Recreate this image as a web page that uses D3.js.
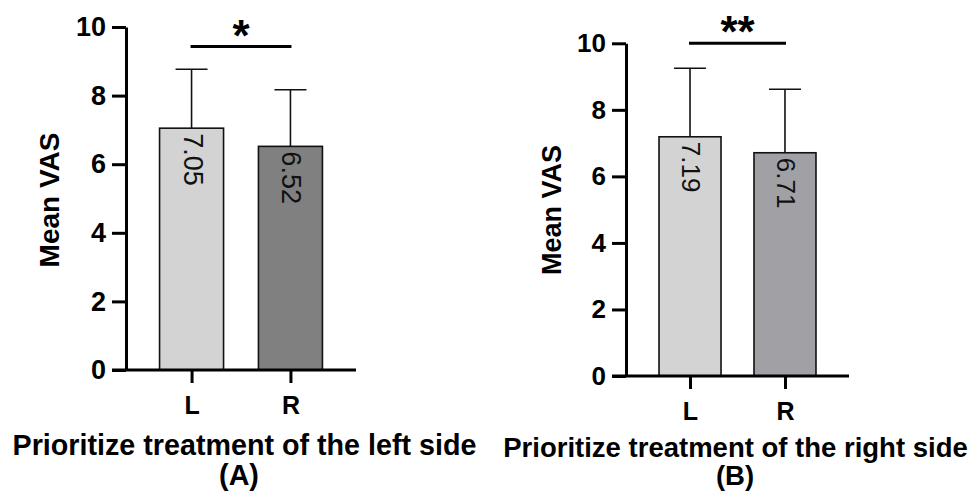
<!DOCTYPE html>
<html>
<head>
<meta charset="utf-8">
<script src="https://cdn.jsdelivr.net/npm/d3@7"></script>
<style>
  body { margin: 0; background: #fff; }
  text { font-family: Arial, "Liberation Sans", sans-serif; }
</style>
</head>
<body>
<div id="chart"></div>
<script>
// data
var groups = ["L", "R"];
var meansA = [7.05, 6.52];
var sdA = [1.72, 1.65];
var meansB = [7.19, 6.71];
var sdB = [2.06, 1.91];
var yTicks = [0, 2, 4, 6, 8, 10];
var titles = ["Prioritize treatment of the left side", "Prioritize treatment of the right side"];
var tags = ["(A)", "(B)"];
var sigMarks = ["*", "**"];
var colorsA = ["#d3d3d3", "#808080"];
var colorsB = ["#d3d3d3", "#a1a1a5"];

var svg = d3.select("#chart")
  .append("svg")
  .attr("width", 973)
  .attr("height", 496);

function drawPanel(p) {
  var g = svg.append("g");

  var y = d3.scaleLinear().domain([0, 10]).range([p.y0, p.y10]);
  var x = d3.scalePoint().domain(groups).range([p.axisX, p.xEnd]).padding(p.pad);

  // bars
  g.selectAll(".bar")
    .data(groups)
    .enter()
    .append("rect")
    .attr("x", function (d) { return x(d) - p.barW / 2; })
    .attr("width", p.barW)
    .attr("y", function (d, i) { return y(p.means[i]); })
    .attr("height", function (d, i) { return p.y0 - y(p.means[i]); })
    .attr("fill", function (d, i) { return p.colors[i]; })
    .attr("stroke", "#111")
    .attr("stroke-width", 1.6);

  // error bars (upper only)
  var err = g.selectAll(".err").data(groups).enter().append("g");
  err.append("line")
    .attr("x1", function (d) { return x(d); })
    .attr("x2", function (d) { return x(d); })
    .attr("y1", function (d, i) { return y(p.means[i]); })
    .attr("y2", function (d, i) { return y(p.means[i] + p.sd[i]); })
    .attr("stroke", "#111").attr("stroke-width", 1.6);
  err.append("line")
    .attr("x1", function (d) { return x(d) - 16; })
    .attr("x2", function (d) { return x(d) + 16; })
    .attr("y1", function (d, i) { return y(p.means[i] + p.sd[i]); })
    .attr("y2", function (d, i) { return y(p.means[i] + p.sd[i]); })
    .attr("stroke", "#111").attr("stroke-width", 1.6);

  // value labels, rotated inside bars
  g.selectAll(".val")
    .data(groups)
    .enter()
    .append("text")
    .attr("transform", function (d, i) {
      return "translate(" + (x(d) + 1) + "," + (y(p.means[i]) + 5) + ") rotate(90)";
    })
    .attr("dominant-baseline", "central")
    .attr("font-size", p.valSize)
    .attr("fill", "#111")
    .text(function (d, i) { return p.means[i].toFixed(2); });

  // y axis
  var yAxis = g.append("g")
    .attr("transform", "translate(" + p.axisX + ",0)")
    .call(d3.axisLeft(y).tickValues(yTicks).tickSize(14).tickPadding(6).tickSizeOuter(0));
  yAxis.select(".domain").attr("stroke", "#000").attr("stroke-width", 3);
  yAxis.selectAll(".tick line").attr("stroke", "#000").attr("stroke-width", 3);
  yAxis.selectAll(".tick text")
    .attr("font-size", p.tickSize)
    .attr("font-weight", "bold")
    .attr("fill", "#000")
    .style("font-family", "Arial, 'Liberation Sans', sans-serif");

  // x axis
  var xAxis = g.append("g")
    .attr("transform", "translate(0," + p.y0 + ")")
    .call(d3.axisBottom(x).tickSize(13).tickPadding(13).tickSizeOuter(0));
  xAxis.select(".domain").remove();
  xAxis.selectAll(".tick line").attr("stroke", "#000").attr("stroke-width", 3);
  xAxis.selectAll(".tick text")
    .attr("font-size", 25)
    .attr("font-weight", "bold")
    .attr("fill", "#000")
    .style("font-family", "Arial, 'Liberation Sans', sans-serif");
  g.append("line")
    .attr("x1", p.axisX - 14)
    .attr("x2", p.xEnd)
    .attr("y1", p.y0)
    .attr("y2", p.y0)
    .attr("stroke", "#000")
    .attr("stroke-width", 3);

  // y label
  g.append("text")
    .attr("transform", "translate(" + p.labelX + "," + p.labelY + ") rotate(-90)")
    .attr("text-anchor", "middle")
    .attr("font-size", p.labelSize)
    .attr("font-weight", "bold")
    .text("Mean VAS");

  // significance bracket
  g.append("line")
    .attr("x1", x(groups[0]) - 1)
    .attr("x2", x(groups[1]) + 1)
    .attr("y1", p.sigY)
    .attr("y2", p.sigY)
    .attr("stroke", "#000")
    .attr("stroke-width", 3);
  g.append("text")
    .attr("x", (x(groups[0]) + x(groups[1])) / 2)
    .attr("y", p.sigY + 4)
    .attr("text-anchor", "middle")
    .attr("font-size", 44)
    .attr("font-weight", "bold")
    .text(p.sig);

  // titles
  g.append("text")
    .attr("x", p.titleX)
    .attr("y", p.titleY)
    .attr("text-anchor", "middle")
    .attr("font-size", p.titleSize)
    .attr("font-weight", "bold")
    .text(p.title);
  g.append("text")
    .attr("x", p.tagX)
    .attr("y", p.titleY + p.tagGap)
    .attr("text-anchor", "middle")
    .attr("font-size", p.titleSize)
    .attr("font-weight", "bold")
    .text(p.tag);
}

drawPanel({
  means: meansA, sd: sdA, colors: colorsA, sig: sigMarks[0], title: titles[0], tag: tags[0],
  axisX: 126, xEnd: 356, pad: 0.663, y0: 370, y10: 27, barW: 64,
  tickSize: 27, valSize: 27, labelSize: 28, labelX: 59, labelY: 200,
  sigY: 46.5, titleX: 244.5, tagX: 239, titleY: 455, tagGap: 30, titleSize: 28.7
});

drawPanel({
  means: meansB, sd: sdB, colors: colorsB, sig: sigMarks[1], title: titles[1], tag: tags[1],
  axisX: 626, xEnd: 849, pad: 0.674, y0: 376, y10: 43.3, barW: 62,
  tickSize: 26, valSize: 26, labelSize: 27, labelX: 561, labelY: 210,
  sigY: 43.3, titleX: 735.5, tagX: 735, titleY: 457, tagGap: 28, titleSize: 27.5
});
</script>
</body>
</html>
